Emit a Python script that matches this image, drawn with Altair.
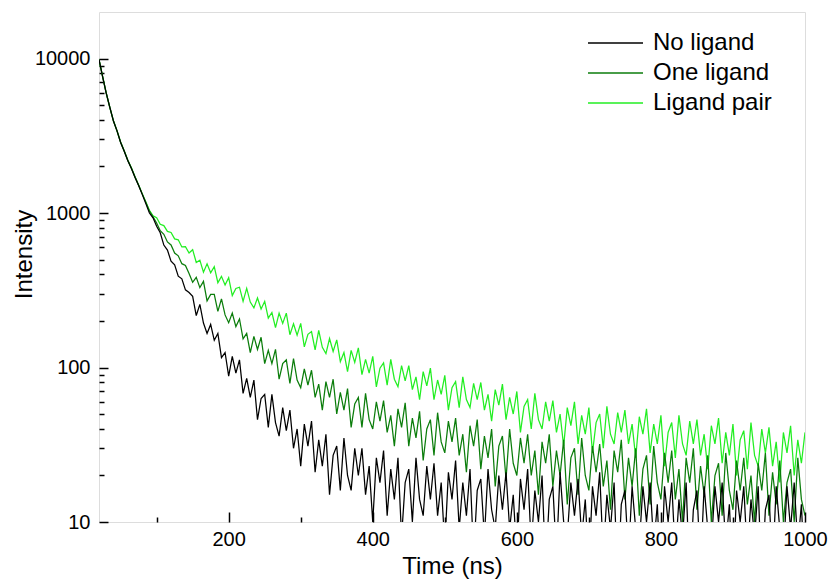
import altair as alt
import pandas as pd

# sampling times (ns)
time_ns = list(range(20, 1001, 5))

series_names = ["No ligand", "One ligand", "Ligand pair"]
series_colors = ["#000000", "#0b7d0b", "#22ee22"]

no_ligand = [
    9860, 7630, 5970, 4840, 3940, 3400, 2860, 2510, 2180, 1940,
    1700, 1505, 1320, 1150, 1000, 930, 820, 745, 620, 575,
    488, 462, 390, 375, 318, 306, 289, 217, 256, 194,
    166, 190, 150, 166, 116, 125, 88, 118, 92, 112,
    68, 85, 64, 83, 46, 63, 67, 41, 67, 44,
    36, 55, 39, 53, 30, 40, 23, 43, 31, 45,
    21, 34, 23, 37, 15, 27, 31, 16, 35, 20,
    16, 30, 20, 30, 15, 23, 10, 26, 18, 29,
    11, 22, 14, 26, 8, 18, 22, 10, 26, 14,
    11, 23, 14, 24, 11, 18, 7, 21, 14, 25,
    9, 18, 11, 22, 6, 16, 19, 8, 22, 12,
    9, 20, 12, 21, 9, 15, 6, 19, 12, 22,
    7, 16, 10, 20, 5, 14, 17, 6, 21, 10,
    8, 18, 11, 19, 8, 14, 5, 17, 11, 21,
    6, 15, 9, 18, 4, 13, 16, 6, 17, 9,
    7, 17, 10, 18, 7, 13, 4, 17, 10, 18,
    6, 14, 8, 18, 4, 12, 16, 5, 17, 9,
    7, 17, 10, 18, 7, 13, 4, 16, 10, 17,
    6, 14, 8, 17, 4, 12, 15, 5, 17, 9,
    6, 17, 9, 18, 7, 13, 4,
]

one_ligand = [
    9850, 7640, 5990, 4820, 3960, 3400, 2880, 2520, 2200, 1950,
    1715, 1515, 1330, 1175, 1030, 945, 862, 768, 728, 650,
    621, 551, 528, 470, 458, 406, 356, 383, 329, 361,
    270, 297, 297, 231, 278, 219, 195, 225, 184, 206,
    153, 166, 125, 159, 131, 157, 106, 129, 106, 131,
    84, 106, 112, 79, 114, 83, 74, 98, 77, 96,
    64, 78, 53, 81, 64, 84, 50, 69, 53, 73,
    41, 58, 64, 41, 68, 46, 40, 60, 45, 61,
    38, 49, 31, 54, 41, 59, 31, 47, 35, 52,
    25, 40, 46, 27, 51, 33, 28, 45, 33, 47,
    27, 37, 21, 42, 31, 46, 22, 36, 26, 40,
    17, 31, 36, 19, 40, 24, 20, 35, 24, 37,
    20, 29, 15, 33, 24, 37, 17, 29, 20, 34,
    13, 26, 30, 15, 35, 20, 16, 31, 21, 32,
    17, 25, 12, 29, 21, 34, 14, 26, 17, 30,
    11, 22, 27, 13, 31, 18, 14, 28, 18, 29,
    14, 22, 10, 26, 18, 30, 12, 23, 15, 27,
    10, 20, 24, 11, 28, 16, 12, 25, 16, 26,
    13, 20, 10, 24, 16, 28, 11, 21, 13, 25,
    10, 18, 22, 10, 26, 14, 11,
]

ligand_pair = [
    9850, 7650, 5980, 4830, 3950, 3410, 2870, 2530, 2190, 1960,
    1710, 1520, 1335, 1180, 1040, 958, 931, 845, 829, 760,
    748, 680, 671, 603, 606, 551, 579, 478, 495, 414,
    469, 410, 450, 354, 389, 342, 381, 292, 325, 331,
    268, 325, 265, 243, 282, 239, 268, 209, 227, 181,
    225, 193, 225, 163, 192, 162, 193, 136, 164, 171,
    130, 174, 135, 123, 154, 127, 151, 109, 125, 94,
    129, 108, 134, 90, 113, 92, 118, 75, 99, 107,
    77, 113, 84, 75, 103, 82, 103, 72, 87, 62,
    94, 76, 99, 62, 83, 67, 89, 53, 74, 81,
    55, 87, 62, 55, 79, 62, 80, 53, 67, 45,
    72, 57, 78, 46, 64, 50, 70, 38, 56, 62,
    40, 68, 46, 40, 60, 45, 61, 38, 50, 31,
    55, 42, 60, 32, 49, 37, 55, 28, 44, 50,
    30, 56, 37, 32, 51, 38, 53, 32, 43, 26,
    48, 37, 54, 28, 43, 32, 49, 23, 38, 44,
    26, 49, 32, 27, 45, 32, 46, 27, 37, 22,
    42, 32, 47, 24, 38, 27, 43, 20, 34, 39,
    22, 44, 27, 23, 40, 28, 41, 23, 33, 18,
    38, 28, 42, 20, 34, 24, 38,
]

x_tick_values = [100, 200, 300, 400, 500, 600, 700, 800, 900, 1000]
y_tick_values = [10, 20, 30, 40, 50, 60, 70, 80, 90,
                 100, 200, 300, 400, 500, 600, 700, 800, 900,
                 1000, 2000, 3000, 4000, 5000, 6000, 7000, 8000, 9000,
                 10000]

rows = []
for name, vals in [("Ligand pair", ligand_pair), ("One ligand", one_ligand), ("No ligand", no_ligand)]:
    for t, v in zip(time_ns, vals):
        rows.append({"t": t, "I": v, "series": name})
df = pd.DataFrame(rows)

FONT = "Liberation Sans"
y_major = "indexof([10, 100, 1000, 10000], datum.value) >= 0"

chart = alt.Chart(df).mark_line(strokeWidth=1.25, clip=True).encode(
    x=alt.X(
        "t:Q",
        scale=alt.Scale(domain=[20, 1000], nice=False, zero=False),
        axis=alt.Axis(
            title="Time (ns)", values=x_tick_values, format="d",
            labelExpr="datum.value % 200 === 0 ? datum.label : ''",
            tickSize={"expr": "datum.value % 200 === 0 ? -10 : -5"},
            labelPadding=17, labelFlush=False, domain=False, grid=False,
            tickColor="black", tickWidth=1.5, labelFontSize=20, labelColor="black",
            labelFont=FONT, titleFont=FONT,
            titleFontSize=24, titleFontWeight="normal", titleColor="black",
            titleBaseline="alphabetic", titleY=51, titleAlign="center",
        ),
    ),
    y=alt.Y(
        "I:Q",
        scale=alt.Scale(type="log", domain=[10, 20000], nice=False),
        axis=alt.Axis(
            title="Intensity", values=y_tick_values, format="d",
            labelExpr=y_major + " ? datum.label : ''",
            tickSize={"expr": y_major + " ? -9 : -5"},
            labelPadding=18, domain=False, grid=False,
            tickColor="black", tickWidth=1.5, labelFontSize=20, labelColor="black",
            labelFont=FONT, titleFont=FONT,
            titleFontSize=24, titleFontWeight="normal", titleColor="black",
            titleAngle=270, titleBaseline="alphabetic", titleAlign="center",
            titleX=-68, titleY=242,
        ),
    ),
    color=alt.Color(
        "series:N",
        scale=alt.Scale(domain=series_names, range=series_colors),
        legend=alt.Legend(
            title=None, orient="none", legendX=488, legendY=16, direction="vertical",
            symbolType="stroke", symbolSize=3025, symbolStrokeWidth=1.5,
            labelFontSize=24, labelFont=FONT, labelColor="black", labelOffset=9,
            clipHeight=30, rowPadding=0, padding=0, labelLimit=400,
        ),
    ),
).properties(
    width=706, height=510,
    padding={"left": 99, "top": 12, "right": 28, "bottom": 59},
    autosize=alt.AutoSizeParams(type="none"),
).configure_view(
    stroke="black", strokeWidth=1.5
).configure(font=FONT)

chart.save("out.html", embed_options={"renderer": "svg", "actions": False})
